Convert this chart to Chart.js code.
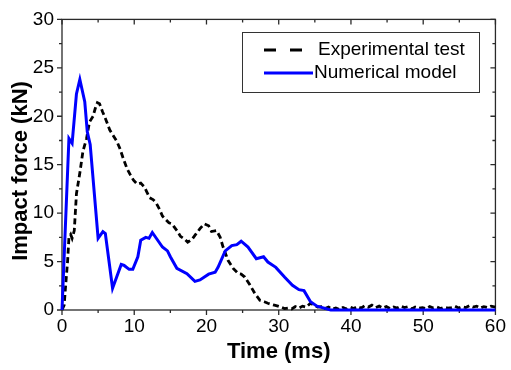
<!DOCTYPE html>
<html>
<head>
<meta charset="utf-8">
<script src="https://cdn.jsdelivr.net/npm/chart.js@4.4.0/dist/chart.umd.min.js"></script>
<style>
  html, body { margin: 0; padding: 0; background: #fff; }
  #wrap { width: 511px; height: 370px; }
</style>
</head>
<body>
<div id="wrap"><canvas id="impactChart"></canvas></div>
<script>
// time (ms) / force (kN)
var expTime = [0, 0.3, 0.5, 0.78, 0.96, 1.2, 1.4, 1.7, 2.0, 2.5, 2.9, 3.4, 3.8, 4.3, 4.6, 4.9, 5.2, 5.6, 6.1, 6.6,
    7.1, 7.6, 8.0, 8.5, 9.0, 9.5, 9.9, 10.4, 10.9, 11.4, 11.8, 12.1, 12.6, 13.0, 13.5, 13.9, 14.4, 14.8, 15.2, 15.5,
    16.0, 16.4, 17.0, 17.4, 18.0, 18.5, 19.1, 19.7, 20.3, 20.7, 21.4, 21.9, 22.3, 23.0, 23.7, 24.4, 24.8, 25.3, 26.0, 26.7,
    27.4, 28.0, 28.5, 28.9, 29.4, 29.9, 30.3, 30.8, 31.3, 31.8, 32.3, 32.8, 33.3, 33.8, 34.4, 34.9, 35.4, 35.9, 36.4, 36.9,
    37.4, 37.9, 38.4, 38.9, 39.4, 39.9, 40.4, 40.9, 41.4, 41.9, 42.4, 42.9, 43.4, 43.9, 44.4, 44.9, 45.4, 45.9, 46.4, 46.9,
    47.4, 47.9, 48.4, 48.9, 49.4, 49.9, 50.4, 50.9, 51.4, 51.9, 52.4, 52.9, 53.4, 53.9, 54.4, 54.9, 55.4, 55.9, 56.4, 56.9,
    57.4, 57.9, 58.4, 58.9, 59.4, 60];
var expForce = [0, 0.5, 2.5, 5.1, 7.5, 7.8, 7.4, 8.2, 12.0, 14.3, 16.4, 17.7, 19.4, 20.0, 20.8, 21.4, 21.3, 20.5, 19.6, 18.6,
    18.0, 17.4, 16.7, 15.6, 14.6, 13.9, 13.4, 13.0, 13.1, 12.7, 12.1, 11.6, 11.4, 11.1, 10.4, 9.7, 9.3, 9.0, 8.9, 8.6,
    8.1, 7.6, 7.3, 7.0, 7.3, 7.8, 8.4, 8.9, 8.7, 8.1, 8.2, 7.5, 6.5, 5.1, 4.3, 3.75, 3.7, 3.4, 2.6, 1.7,
    1.0, 0.85, 0.7, 0.6, 0.5, 0.4, 0.3, 0.15, 0.2, 0.1, 0.35, 0.2, 0.4, 0.3, 0.7, 0.5, 0.3, 0.35, 0.15, 0.3,
    0.1, 0.2, 0.05, 0.25, 0.1, 0.3, 0.15, 0.35, 0.2, 0.45, 0.3, 0.5, 0.25, 0.4, 0.2, 0.35, 0.15, 0.3, 0.2, 0.4,
    0.25, 0.35, 0.1, 0.3, 0.2, 0.25, 0.15, 0.35, 0.2, 0.3, 0.15, 0.3, 0.2, 0.25, 0.4, 0.2, 0.35, 0.25, 0.45, 0.3,
    0.4, 0.2, 0.35, 0.25, 0.4, 0.3];

var numTime = [0, 0.96, 1.4, 2.0, 2.47, 3.15, 3.5, 3.9, 5.0, 5.66, 6.0, 7.0, 8.2, 8.6, 9.3, 9.8, 10.5, 10.9, 11.6, 12.05,
    12.5, 13.9, 14.6, 15.0, 15.9, 17.3, 18.4, 19.1, 20.3, 21.2, 21.6, 22.6, 23.5, 24.2, 24.8, 25.75, 26.9, 27.9, 28.5, 29.6,
    30.8, 31.9, 32.8, 33.5, 34.4, 35.3, 37.2, 60];
var numForce = [0, 17.7, 17.2, 22.3, 23.8, 21.5, 18.4, 17.1, 7.4, 8.1, 7.9, 2.25, 4.7, 4.6, 4.2, 4.2, 5.5, 7.2, 7.5, 7.4,
    8.0, 6.5, 6.1, 5.5, 4.3, 3.75, 2.95, 3.1, 3.7, 3.9, 4.4, 6.1, 6.65, 6.75, 7.1, 6.5, 5.3, 5.5, 4.95, 4.4,
    3.4, 2.55, 2.1, 2.0, 0.85, 0.4, 0, 0];

var xTicks = [0, 10, 20, 30, 40, 50, 60];
var yTicks = [0, 5, 10, 15, 20, 25, 30];
var seriesNames = ['Experimental test', 'Numerical model'];
var xTitle = 'Time (ms)';
var yTitle = 'Impact force (kN)';

var FONT = "'Liberation Sans', Arial, sans-serif";

function toPoints(xs, ys) {
    return xs.map(function (t, i) { return { x: t, y: ys[i] }; });
}

// box, ticks on all four sides, axis titles and the framed legend
var frame = {
    id: 'frame',
    beforeDatasetsDraw: function (chart) {
        var ctx = chart.ctx, a = chart.chartArea;
        var x = chart.scales.x, y = chart.scales.y;
        ctx.save();
        ctx.strokeStyle = '#2a2a2a';
        ctx.lineWidth = 1.3;
        ctx.strokeRect(a.left, a.top, a.right - a.left, a.bottom - a.top);

        ctx.beginPath();
        xTicks.forEach(function (v, i) {
            var px = x.getPixelForValue(v);
            ctx.moveTo(px, a.bottom); ctx.lineTo(px, a.bottom + 5);
            ctx.moveTo(px, a.top); ctx.lineTo(px, a.top + 5);
            if (i < xTicks.length - 1) {
                var mx = x.getPixelForValue((v + xTicks[i + 1]) / 2);
                ctx.moveTo(mx, a.bottom); ctx.lineTo(mx, a.bottom + 3);
                ctx.moveTo(mx, a.top); ctx.lineTo(mx, a.top + 3);
            }
        });
        yTicks.forEach(function (v, i) {
            var py = y.getPixelForValue(v);
            ctx.moveTo(a.left, py); ctx.lineTo(a.left - 5, py);
            ctx.moveTo(a.right, py); ctx.lineTo(a.right - 5, py);
            if (i < yTicks.length - 1) {
                var my = y.getPixelForValue((v + yTicks[i + 1]) / 2);
                ctx.moveTo(a.left, my); ctx.lineTo(a.left - 3, my);
                ctx.moveTo(a.right, my); ctx.lineTo(a.right - 3, my);
            }
        });
        ctx.stroke();
        ctx.restore();
    },
    afterDraw: function (chart) {
        var ctx = chart.ctx, a = chart.chartArea;
        ctx.save();
        ctx.fillStyle = '#000';
        ctx.font = 'bold 22px ' + FONT;
        ctx.textAlign = 'center';
        ctx.textBaseline = 'middle';
        ctx.fillText(xTitle, (a.left + a.right) / 2, 352);
        ctx.translate(21, 171);
        ctx.rotate(-Math.PI / 2);
        ctx.fillText(yTitle, 0, 0);
        ctx.restore();

        // legend
        ctx.save();
        ctx.strokeStyle = '#333';
        ctx.lineWidth = 1;
        ctx.strokeRect(242.5, 32.5, 237, 60);
        ctx.lineWidth = 3;
        ctx.strokeStyle = '#000';
        ctx.setLineDash([12, 14]);
        ctx.beginPath(); ctx.moveTo(264, 50); ctx.lineTo(312, 50); ctx.stroke();
        ctx.setLineDash([]);
        ctx.strokeStyle = '#0000ff';
        ctx.beginPath(); ctx.moveTo(264, 73); ctx.lineTo(313, 73); ctx.stroke();
        ctx.fillStyle = '#000';
        ctx.font = '19px ' + FONT;
        ctx.textBaseline = 'middle';
        ctx.fillText(seriesNames[0], 318, 50);
        ctx.fillText(seriesNames[1], 314, 73);
        ctx.restore();
    }
};

var impactChart = new Chart(document.getElementById('impactChart').getContext('2d'), {
    type: 'line',
    data: {
        datasets: [
            {
                label: seriesNames[0],
                data: toPoints(expTime, expForce),
                borderColor: '#000',
                borderWidth: 2.8,
                borderDash: [6, 3.5],
                pointRadius: 0,
                tension: 0,
                clip: false,
                order: 1
            },
            {
                label: seriesNames[1],
                data: toPoints(numTime, numForce),
                borderColor: '#0000ff',
                borderWidth: 3,
                pointRadius: 0,
                tension: 0,
                clip: false,
                order: 0
            }
        ]
    },
    options: {
        responsive: true,
        maintainAspectRatio: false,
        animation: false,
        layout: { padding: { left: 0, right: 11, top: 17, bottom: 0 } },
        plugins: {
            legend: { display: false },
            tooltip: { enabled: false }
        },
        scales: {
            x: {
                type: 'linear',
                min: 0,
                max: 60,
                afterBuildTicks: function (scale) { scale.ticks = xTicks.map(function (v) { return { value: v }; }); },
                afterFit: function (scale) { scale.height = 60; },
                grid: { display: false, drawTicks: false },
                border: { display: false },
                ticks: { color: '#000', padding: 5, maxRotation: 0, font: { family: FONT, size: 19 } }
            },
            y: {
                type: 'linear',
                min: 0,
                max: 30,
                afterBuildTicks: function (scale) { scale.ticks = yTicks.map(function (v) { return { value: v }; }); },
                afterFit: function (scale) { scale.width = 62; },
                grid: { display: false, drawTicks: false },
                border: { display: false },
                ticks: { color: '#000', padding: 8, font: { family: FONT, size: 19 } }
            }
        }
    },
    plugins: [frame]
});
</script>
</body>
</html>
